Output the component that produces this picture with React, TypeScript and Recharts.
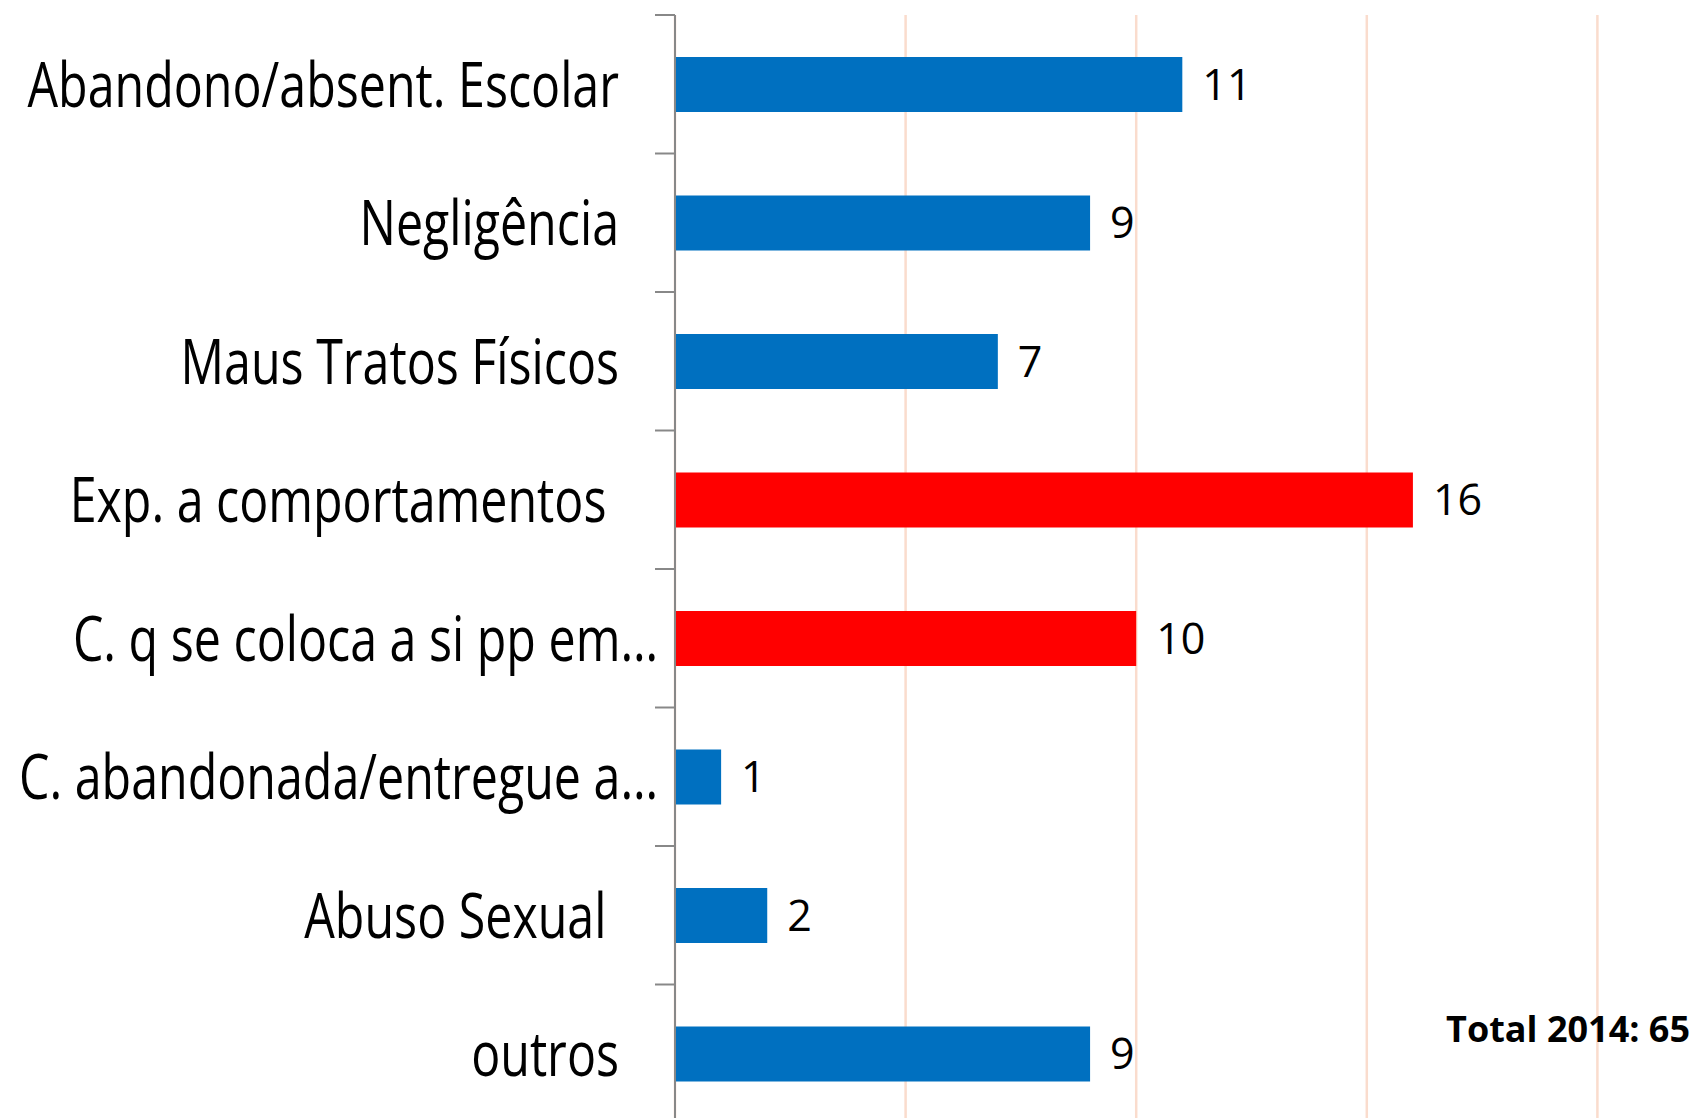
import React from "react";
import {
  BarChart,
  Bar,
  XAxis,
  YAxis,
  CartesianGrid,
  Cell,
  LabelList,
} from "recharts";

const categories: string[] = [
  "Abandono/absent. Escolar",
  "Negligência",
  "Maus Tratos Físicos",
  "Exp. a comportamentos ",
  "C. q se coloca a si pp em…",
  "C. abandonada/entregue a…",
  "Abuso Sexual ",
  "outros",
];

const values: number[] = [11, 9, 7, 16, 10, 1, 2, 9];

// red = highlighted categories
const highlighted: boolean[] = [false, false, false, true, true, false, false, false];

const xTicks: number[] = [0, 5, 10, 15, 20, 25];

const totalLabel = "Total 2014: 65";

const BLUE = "#0070C0";
const RED = "#FF0000";
const AXIS = "#888888";
const GRID = "#FADCCD";
const TICK_LEN = 20;

const data = categories.map((name, i) => ({ name, value: values[i] }));

const NoTick = () => <g />;

// category label plus Excel-style tick marks on the band boundaries
const CategoryTick = (props: any) => {
  const { x, y, payload, index } = props;
  const label: string = payload.value;
  const half: number = payload.offset || 0;
  const shift = label.endsWith("…") ? 17 : 56;
  const isLast = index === categories.length - 1;
  return (
    <g>
      <line
        x1={x - TICK_LEN}
        x2={x}
        y1={y - half}
        y2={y - half}
        stroke={AXIS}
        strokeWidth={2}
      />
      {isLast && (
        <line
          x1={x - TICK_LEN}
          x2={x}
          y1={y + half}
          y2={y + half}
          stroke={AXIS}
          strokeWidth={2}
        />
      )}
      <g transform={`translate(${x - shift},${y})`}>
        <text
          x={0}
          y={0}
          dy="0.36em"
          textAnchor="end"
          transform="scale(0.78,1)"
          fill="#000"
          style={{
            fontFamily: "'Open Sans', sans-serif",
            fontSize: 62,
            whiteSpace: "pre",
          }}
        >
          {label}
        </text>
      </g>
    </g>
  );
};

const App: React.FC = () => {
  return (
    <div
      style={{
        position: "fixed",
        top: 0,
        left: 0,
        width: 1697,
        height: 1118,
        overflow: "hidden",
        background: "#fff",
      }}
    >
      <BarChart
        width={1828}
        height={1124}
        data={data}
        layout="vertical"
        margin={{ top: 15, right: 0, bottom: 1, left: 0 }}
      >
        <CartesianGrid horizontal={false} stroke={GRID} strokeWidth={2.5} />
        <XAxis
          type="number"
          domain={[0, 25]}
          ticks={xTicks}
          height={0}
          tick={NoTick}
          tickLine={false}
          axisLine={false}
        />
        <YAxis
          type="category"
          dataKey="name"
          width={675}
          tickSize={0}
          tickMargin={0}
          tickLine={false}
          axisLine={{ stroke: AXIS, strokeWidth: 2 }}
          tick={<CategoryTick />}
          interval={0}
        />
        <Bar dataKey="value" barSize={55} isAnimationActive={false}>
          {data.map((d, i) => (
            <Cell key={d.name} fill={highlighted[i] ? RED : BLUE} />
          ))}
          <LabelList
            dataKey="value"
            position="right"
            offset={20}
            fill="#000"
            style={{ fontFamily: "'Open Sans', sans-serif", fontSize: 43 }}
          />
        </Bar>
      </BarChart>
      <div
        style={{
          position: "absolute",
          top: 1011,
          right: 7,
          fontFamily: "'Open Sans', sans-serif",
          fontWeight: 700,
          fontSize: 36,
          lineHeight: 1,
          color: "#000",
          whiteSpace: "nowrap",
        }}
      >
        {totalLabel}
      </div>
    </div>
  );
};

export default App;
